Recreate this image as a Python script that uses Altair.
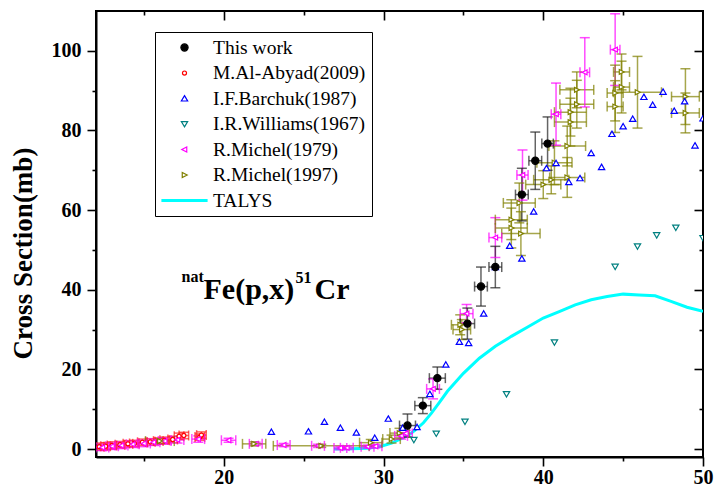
import altair as alt
import pandas as pd

SERIES = ["This work", "M.Al-Abyad(2009)", "I.F.Barchuk(1987)", "I.R.Williams(1967)",
          "R.Michel(1979)", "R.Michel(1997)", "TALYS"]

# This work
tw_x = [31.5, 32.46, 33.37, 35.25, 36.1, 37.0, 38.66, 39.5, 40.27]
tw_y = [5.9, 10.9, 17.8, 31.5, 40.8, 45.7, 63.9, 72.4, 76.7]
tw_xe = [0.5, 0.5, 0.5, 0.45, 0.4, 0.4, 0.4, 0.4, 0.36]
tw_ye = [2.9, 2.0, 2.8, 3.9, 4.9, 5.2, 6.6, 7.2, 6.7]

# M.Al-Abyad(2009)
aa_x = [12.2, 12.6, 13.0, 13.5, 14.0, 14.4, 14.9, 15.4, 15.9, 16.3, 16.8, 17.2, 17.5, 18.5, 18.6]
aa_y = [0.6, 0.7, 0.9, 1.1, 1.3, 1.4, 1.7, 1.8, 2.0, 2.2, 2.4, 3.2, 3.4, 3.0, 3.5]
aa_xe = [0.3, 0.3, 0.3, 0.3, 0.3, 0.3, 0.3, 0.3, 0.3, 0.3, 0.3, 0.3, 0.3, 0.3, 0.3]
aa_ye = [0.9, 0.9, 0.9, 0.8, 0.8, 0.8, 0.8, 0.8, 0.8, 0.8, 0.8, 0.8, 0.8, 0.8, 0.8]

# I.F.Barchuk(1987)
bc_x = [22.98, 25.3, 26.3, 27.3, 28.3, 29.45, 30.3, 31.2, 32.1, 32.9, 33.9, 34.75, 35.33, 36.27,
        37.0, 37.9, 38.66, 39.4, 40.2, 40.8, 41.6, 42.3, 43.0, 43.65, 44.3, 45.0, 45.6, 46.3,
        46.85, 47.5, 48.2, 48.85, 49.5, 50.0]
bc_y = [4.3, 4.4, 6.8, 5.3, 4.1, 2.8, 7.6, 5.3, 5.5, 13.8, 21.2, 26.9, 26.6, 34.0,
        45.7, 51.0, 47.8, 59.6, 70.5, 71.8, 67.0, 68.0, 74.3, 70.8, 79.1, 81.0, 82.9, 88.4,
        86.4, 89.7, 84.9, 87.3, 76.2, 83.0]

# I.R.Williams(1967)
wl_x = [31.9, 33.3, 35.1, 37.7, 40.7, 44.5, 45.9, 47.1, 48.3, 50.0]
wl_y = [2.3, 3.9, 6.9, 13.8, 26.8, 45.8, 50.9, 53.7, 55.6, 53.0]

# R.Michel(1979)
m79_x = [12.4, 13.0, 13.6, 14.3, 15.0, 15.6, 16.3, 17.1, 18.4, 20.3, 22.0, 23.75, 25.9, 27.3,
         27.7, 29.0, 29.5, 31.1, 31.4, 33.1, 35.2, 37.0, 38.7, 40.8, 42.6, 44.5]
m79_y = [0.4, 0.7, 0.9, 1.2, 1.4, 1.7, 2.0, 2.3, 2.5, 2.2, 1.3, 1.0, 0.8, 0.25,
         0.3, 0.6, 0.7, 3.3, 3.9, 15.1, 34.0, 53.1, 68.8, 84.1, 94.6, 100.3]
m79_xe = [0.4, 0.4, 0.4, 0.4, 0.4, 0.4, 0.4, 0.4, 0.4, 0.45, 0.4, 0.4, 0.4, 0.4,
          0.4, 0.4, 0.4, 0.4, 0.4, 0.4, 0.4, 0.4, 0.35, 0.3, 0.3, 0.3]
m79_ye = [0.8, 0.8, 0.8, 0.8, 0.8, 0.8, 0.8, 0.8, 0.8, 0.5, 0.4, 0.4, 0.4, 0.4,
          0.4, 0.4, 0.4, 0.8, 0.8, 2.5, 2.3, 5.0, 6.3, 7.8, 8.7, 9.0]

# R.Michel(1997)
m97_x = [16.0, 21.9, 26.1, 29.2, 30.5, 31.0, 34.8, 34.9, 38.0, 38.0, 38.5, 38.6, 40.0, 40.5,
         40.7, 41.5, 41.5, 41.7, 41.7, 42.1, 42.1, 44.5, 44.5, 44.9, 44.9, 45.9, 48.9, 48.9]
m97_y = [2.0, 1.3, 0.8, 1.6, 2.5, 4.0, 31.2, 30.0, 57.6, 55.5, 61.8, 54.1, 66.4, 67.6,
         71.9, 68.2, 76.1, 82.1, 84.6, 86.6, 90.2, 86.0, 89.4, 90.9, 94.7, 89.6, 88.5, 84.4]
m97_xe = [0.9, 0.73, 3.0, 0.7, 0.55, 0.6, 0.55, 0.55, 1.0, 1.0, 1.0, 1.2, 1.1, 1.1,
          1.1, 1.1, 1.15, 1.0, 1.0, 1.06, 1.06, 0.5, 0.5, 0.5, 0.5, 1.5, 0.87, 0.87]
m97_ye = [0.6, 0.5, 0.4, 0.8, 1.0, 1.2, 2.5, 2.5, 5.0, 5.0, 5.0, 5.5, 3.5, 3.5,
          5.5, 5.0, 5.0, 6.0, 6.0, 6.0, 4.5, 6.5, 7.0, 6.5, 4.5, 9.0, 7.0, 5.0]

# TALYS
ta_x = [26.9, 28.0, 29.0, 29.8, 30.5, 31.0, 31.6, 32.0, 32.5, 33.0, 33.5, 34.0, 35.0, 36.0,
        37.0, 38.0, 39.0, 40.0, 41.0, 42.0, 43.0, 44.0, 45.0, 46.0, 47.0, 48.0, 49.0, 50.0]
ta_y = [0.0, 0.05, 0.2, 0.65, 1.5, 2.4, 3.6, 4.8, 6.6, 9.0, 11.7, 14.5, 19.0, 22.8,
        25.8, 28.3, 30.6, 32.9, 34.5, 36.2, 37.5, 38.3, 38.9, 38.7, 38.5, 37.1, 35.6, 34.6]


def points(name, xs, ys):
    return pd.DataFrame({"series": name, "x": xs, "y": ys})


def errs(name, xs, ys, xe, ye):
    d = points(name, xs, ys)
    d["xlo"] = [a - b for a, b in zip(xs, xe)]
    d["xhi"] = [a + b for a, b in zip(xs, xe)]
    d["ylo"] = [a - b for a, b in zip(ys, ye)]
    d["yhi"] = [a + b for a, b in zip(ys, ye)]
    return d


pts = pd.concat([
    points("M.Al-Abyad(2009)", aa_x, aa_y),
    points("R.Michel(1979)", m79_x, m79_y),
    points("R.Michel(1997)", m97_x, m97_y),
    points("I.F.Barchuk(1987)", bc_x, bc_y),
    points("I.R.Williams(1967)", wl_x, wl_y),
    points("This work", tw_x, tw_y),
], ignore_index=True)

err = pd.concat([
    errs("M.Al-Abyad(2009)", aa_x, aa_y, aa_xe, aa_ye),
    errs("R.Michel(1979)", m79_x, m79_y, m79_xe, m79_ye),
    errs("R.Michel(1997)", m97_x, m97_y, m97_xe, m97_ye),
    errs("This work", tw_x, tw_y, tw_xe, tw_ye),
], ignore_index=True)

talys = pd.DataFrame({"x": ta_x, "y": ta_y})

W, H = 607, 446
FONT = "Liberation Serif"

xscale = alt.Scale(domain=[12, 50], nice=False, zero=False)
yscale = alt.Scale(domain=[-2, 110], nice=False, zero=False)

common = dict(grid=False, title=None, tickColor="black", domainColor="black")


def ax(orient, values, size, labels=False, offset=0, domain=False, **kw):
    opts = dict(orient=orient, values=values, tickSize=size, tickWidth=1.6,
                labels=labels, domain=domain, offset=offset, **common)
    if domain:
        opts["domainWidth"] = 2
    if labels:
        opts.update(labelFont=FONT, labelFontSize=20, labelFontWeight="bold",
                    labelColor="black", labelFlush=False, labelOverlap=False)
    opts.update(kw)
    return alt.Axis(**opts)


ax_bot = ax("bottom", [20, 30, 40, 50], 9, labels=True, domain=True, labelPadding=1)
ax_bot_min = ax("bottom", [15, 25, 35, 45], 4)
ax_top = ax("bottom", [20, 30, 40], 9, offset=-H)
ax_top_min = ax("bottom", [15, 25, 35, 45], 4, offset=-H)
ax_left = alt.Axis(orient="left", values=[0, 20, 40, 60, 80, 100], tickSize=9, tickWidth=1.6,
                   grid=False, tickColor="black", domainColor="black", domainWidth=2,
                   labelFont=FONT, labelFontSize=20, labelFontWeight="bold", labelColor="black",
                   labelPadding=6, labelFlush=False, labelOverlap=False,
                   title="Cross Section(mb)", titleFont=FONT, titleFontSize=27,
                   titleFontWeight="bold", titleColor="black", titleAngle=270,
                   titleX=-65, titleY=242, titleAlign="center", titleBaseline="alphabetic")
ax_left_min = ax("left", [10, 30, 50, 70, 90], 4)
ax_right = ax("left", [0, 20, 40, 60, 80, 100], 9, offset=-W)
ax_right_min = ax("left", [10, 30, 50, 70, 90], 4, offset=-W)


def X(f, a=None):
    if a is None:
        return alt.X(f, type="quantitative", scale=xscale, axis=None)
    return alt.X(f, type="quantitative", scale=xscale, axis=a)


def Y(f, a=None):
    if a is None:
        return alt.Y(f, type="quantitative", scale=yscale, axis=None)
    return alt.Y(f, type="quantitative", scale=yscale, axis=a)


ERR_SERIES = ["This work", "M.Al-Abyad(2009)", "R.Michel(1979)", "R.Michel(1997)"]
ERR_COLORS = ["#222222", "#ff2020", "#ff00ff", "#808000"]
err_color = alt.Color("series:N", scale=alt.Scale(domain=ERR_SERIES, range=ERR_COLORS), legend=None)

SHAPES = [
    "M0.16,0A0.16,0.16,0,1,1,-0.16,0A0.16,0.16,0,1,1,0.16,0Z",
    "M0.09,0A0.09,0.09,0,1,1,-0.09,0A0.09,0.09,0,1,1,0.09,0Z",
    "M0,-0.13L0.14,0.11L-0.14,0.11Z",
    "M0,0.13L0.14,-0.11L-0.14,-0.11Z",
    "M-0.12,0L0.1,-0.11L0.1,0.11Z",
    "M0.12,0L-0.1,-0.11L-0.1,0.11Z",
    "M-1,-0.035H1V0.035H-1Z",
]
FILLS = ["black", "white", "white", "white", "white", "white", "#00ffff"]
STROKES = ["black", "#ff0000", "#0000ff", "#008080", "#ff00ff", "#808000", "#00ffff"]

leg = alt.Legend(orient="none", legendX=59, legendY=21, title=None, padding=6,
                 strokeColor="black", fillColor="white", labelFont=FONT, labelFontSize=19.5,
                 labelColor="black", labelOffset=5, labelLimit=300, symbolSize=2025,
                 symbolStrokeWidth=1.2, clipHeight=19, rowPadding=5.5)

line = alt.Chart(talys).mark_line(color="#00ffff", strokeWidth=3, clip=True).encode(
    x=X("x", ax_bot), y=Y("y", ax_left))

xbars = alt.Chart(err).mark_rule(strokeWidth=1.5, opacity=0.7, clip=True).encode(
    x=X("xlo", ax_bot_min), x2="xhi", y=Y("y", ax_left_min), color=err_color)

ybars = alt.Chart(err).mark_rule(strokeWidth=1.5, opacity=0.7, clip=True).encode(
    x=X("x", ax_top), y=Y("ylo", ax_right), y2="yhi", color=err_color)

cap_kw = dict(shape="stroke", size=100, strokeWidth=1.5, opacity=0.7, clip=True)
cap_ylo = alt.Chart(err).mark_point(**cap_kw).encode(
    x=X("x", ax_top_min), y=Y("ylo", ax_right_min), color=err_color)
cap_yhi = alt.Chart(err).mark_point(**cap_kw).encode(
    x=X("x"), y=Y("yhi"), color=err_color)
cap_xlo = alt.Chart(err).mark_point(angle=90, **cap_kw).encode(
    x=X("xlo"), y=Y("y"), color=err_color)
cap_xhi = alt.Chart(err).mark_point(angle=90, **cap_kw).encode(
    x=X("xhi"), y=Y("y"), color=err_color)

pts_layer = alt.Chart(pts).mark_point(size=2025, strokeWidth=1.2, opacity=1, clip=True).encode(
    x=X("x"), y=Y("y"),
    shape=alt.Shape("series:N", scale=alt.Scale(domain=SERIES, range=SHAPES), legend=leg),
    fill=alt.Fill("series:N", scale=alt.Scale(domain=SERIES, range=FILLS), legend=leg),
    stroke=alt.Stroke("series:N", scale=alt.Scale(domain=SERIES, range=STROKES), legend=leg),
)


def label(txt, size, x, y):
    return alt.Chart(alt.Data(values=[{}])).mark_text(
        text=txt, font=FONT, fontSize=size, fontWeight="bold", align="left",
        baseline="alphabetic", color="black").encode(x=alt.value(x), y=alt.value(y))


texts = [label("nat", 16, 85.5, 271), label("Fe(p,x)", 30, 107.5, 288),
         label("51", 16, 199.5, 271.5), label("Cr", 30, 218.5, 288)]

chart = alt.layer(line, xbars, ybars, cap_ylo, cap_yhi, cap_xlo, cap_xhi, pts_layer, *texts).resolve_axis(
    x="independent", y="independent"
).properties(
    width=W, height=H,
    autosize=alt.AutoSizeParams(type="none"),
    padding={"left": 96, "top": 11, "right": 12, "bottom": 37},
    background="white",
).configure_view(stroke="black", strokeWidth=2)

chart.save("out.html", embed_options={"renderer": "svg", "actions": False})
